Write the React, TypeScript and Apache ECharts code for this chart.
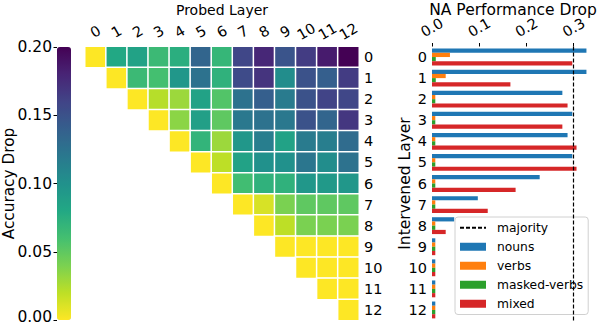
import React, { useEffect, useRef } from "react";
import * as echarts from "echarts";

const layers = ["0", "1", "2", "3", "4", "5", "6", "7", "8", "9", "10", "11", "12"];

// Accuracy drop heatmap: each row starts at the diagonal (probed layer = intervened layer)
const accRow0 = [0, 0.08, 0.085, 0.065, 0.075, 0.135, 0.068, 0.158, 0.178, 0.148, 0.165, 0.185, 0.2];
const accRow1 = [0, 0.065, 0.06, 0.095, 0.125, 0.072, 0.155, 0.17, 0.103, 0.15, 0.14, 0.165];
const accRow2 = [0, 0.022, 0.03, 0.085, 0.055, 0.125, 0.14, 0.118, 0.15, 0.16, 0.158];
const accRow3 = [0, 0.035, 0.088, 0.05, 0.12, 0.125, 0.12, 0.15, 0.135, 0.168];
const accRow4 = [0, 0.07, 0.03, 0.095, 0.115, 0.085, 0.118, 0.115, 0.13];
const accRow5 = [0, 0.02, 0.085, 0.1, 0.1, 0.122, 0.103, 0.125];
const accRow6 = [0, 0.062, 0.072, 0.072, 0.095, 0.093, 0.095];
const accRow7 = [0, 0.012, 0.04, 0.05, 0.05, 0.05];
const accRow8 = [0, 0.02, 0.04, 0.04, 0.04];
const accRow9 = [0, 0, 0, 0];
const accRow10 = [0, 0, 0];
const accRow11 = [0, 0];
const accRow12 = [0];
const accRows = [accRow0, accRow1, accRow2, accRow3, accRow4, accRow5, accRow6, accRow7, accRow8, accRow9, accRow10, accRow11, accRow12];

const colorbarTicks = [0, 0.05, 0.1, 0.15, 0.2];

// NA performance drop bars
const nouns = [0.327, 0.327, 0.276, 0.297, 0.287, 0.297, 0.228, 0.097, 0.047, 0.007, 0.007, 0.007, 0.007];
const verbs = [0.038, 0.029, 0.007, 0.007, 0.007, 0.007, 0.007, 0.007, 0.007, 0.007, 0.007, 0.007, 0.007];
const maskedVerbs = [0.008, 0.008, 0.007, 0.007, 0.007, 0.007, 0.007, 0.007, 0.007, 0.007, 0.007, 0.007, 0.007];
const mixed = [0.297, 0.166, 0.287, 0.276, 0.306, 0.306, 0.177, 0.118, 0.029, 0.007, 0.007, 0.007, 0.007];
const majority = 0.302;
const naTicks = [0, 0.1, 0.2, 0.3];

const viridisR = ["#fde725", "#bddf26", "#7ad151", "#44bf70", "#22a884", "#21918c", "#2a788e", "#355f8d", "#414487", "#482475", "#440154"];

export default function App() {
  const ref = useRef<HTMLDivElement>(null);
  useEffect(() => {
    document.body.style.margin = "0";
    if (!ref.current) return;
    const chart = echarts.init(ref.current, undefined, { renderer: "svg" });
    const heatData: number[][] = [];
    accRows.forEach((row, i) => {
      row.forEach((v, k) => heatData.push([i + k, i, v]));
    });
    const font = "DejaVu Sans";
    const black = "#000";
    chart.setOption({
      animation: false,
      textStyle: { fontFamily: font, color: black },
      grid: [
        { left: 85, top: 46.5, width: 274, height: 274, outerBoundsMode: "none", containLabel: false },
        { left: 432, top: 46.5, width: 162, height: 274, outerBoundsMode: "none", containLabel: false },
        { left: 57, top: 47, width: 14, height: 273, outerBoundsMode: "none", containLabel: false },
      ],
      xAxis: [
        {
          type: "category", gridIndex: 0, position: "top", data: layers,
          axisLine: { show: false },
          axisTick: { alignWithLabel: true, length: 3.5, interval: 0, lineStyle: { color: black } },
          axisLabel: { interval: 0, rotate: -30, fontSize: 14.5, color: black, align: "center", verticalAlign: "middle", margin: 15, fontFamily: font },
          splitLine: { show: false },
          name: "Probed Layer", nameLocation: "middle", nameGap: 29.5, nameMoveOverlap: false,
          nameTextStyle: { fontSize: 14, color: black, fontFamily: font },
        },
        {
          type: "value", gridIndex: 1, position: "top", min: 0, max: 0.343,
          axisLine: { show: false },
          axisTick: { show: true, length: 3.5, customValues: naTicks, lineStyle: { color: black } },
          axisLabel: { rotate: -30, fontSize: 14.5, color: black, align: "center", verticalAlign: "middle", margin: 19, customValues: naTicks, formatter: (v: number) => v.toFixed(1), fontFamily: font },
          splitLine: { show: false },
          name: "NA Performance Drop", nameLocation: "middle", nameGap: 28.5, nameMoveOverlap: false,
          nameTextStyle: { fontSize: 15.5, color: black, fontFamily: font },
        },
        { type: "value", gridIndex: 2, show: false, min: 0, max: 1 },
      ],
      yAxis: [
        {
          type: "category", gridIndex: 0, position: "right", inverse: true, data: layers,
          axisLine: { show: false },
          axisTick: { alignWithLabel: true, length: 3.5, interval: 0, lineStyle: { color: black } },
          axisLabel: { interval: 0, fontSize: 14.5, color: black, margin: 5, fontFamily: font },
          splitLine: { show: false },
        },
        {
          type: "category", gridIndex: 1, position: "left", inverse: true, data: layers,
          axisLine: { show: false },
          axisTick: { alignWithLabel: true, length: 3.5, interval: 0, lineStyle: { color: black } },
          axisLabel: { interval: 0, fontSize: 14.5, color: black, margin: 5, fontFamily: font },
          splitLine: { show: false },
          name: "Intervened Layer", nameLocation: "middle", nameGap: 19, nameMoveOverlap: false,
          nameTextStyle: { fontSize: 15.5, color: black, fontFamily: font },
        },
        {
          type: "value", gridIndex: 2, position: "left", min: 0, max: 0.2, interval: 0.05,
          axisLine: { show: false },
          axisTick: { show: true, length: 3.5, customValues: colorbarTicks, lineStyle: { color: black } },
          axisLabel: {
            fontSize: 15.5, lineHeight: 12, color: black, margin: 5, customValues: colorbarTicks, fontFamily: font,
            formatter: (v: number) => (v === 0 ? "{low|" + v.toFixed(2) + "}" : v.toFixed(2)),
            rich: { low: { fontSize: 15.5, lineHeight: 12, color: black, fontFamily: font, padding: [0, 0, 6, 0] } },
          },
          splitLine: { show: false },
          name: "Accuracy Drop", nameLocation: "middle", nameGap: 40.5, nameMoveOverlap: false,
          nameTextStyle: { fontSize: 15.3, color: black, fontFamily: font },
        },
      ],
      visualMap: {
        type: "continuous", seriesIndex: 0, min: 0, max: 0.2,
        left: 57, top: 47, itemWidth: 14, itemHeight: 273, padding: 0,
        calculable: false, text: null, orient: "vertical",
        inRange: { color: viridisR },
      },
      legend: {
        left: 455, top: 217, orient: "vertical",
        itemWidth: 26, itemHeight: 8, itemGap: 5.5,
        padding: [4, 5, 4, 4],
        backgroundColor: "rgba(255,255,255,0.8)",
        borderColor: "#d0d0d0", borderWidth: 1, borderRadius: 3,
        textStyle: { fontSize: 12.3, lineHeight: 13.5, color: black, fontFamily: font, padding: [0, 0, 0, 6] },
        data: [
          { name: "majority", itemStyle: { color: "rgba(0,0,0,0)", borderWidth: 0, opacity: 0 } },
          { name: "nouns", icon: "rect" },
          { name: "verbs", icon: "rect" },
          { name: "masked-verbs", icon: "rect" },
          { name: "mixed", icon: "rect" },
        ],
      },
      series: [
        {
          type: "heatmap", xAxisIndex: 0, yAxisIndex: 0, data: heatData,
          itemStyle: { borderColor: "#fff", borderWidth: 1.5 },
          emphasis: { disabled: true },
        },
        {
          name: "majority", type: "line", xAxisIndex: 1, yAxisIndex: 1, data: [],
          symbol: "none", color: black,
          lineStyle: { color: black, type: [4, 2], width: 1.2 },
          markLine: {
            silent: true, symbol: "none", label: { show: false },
            lineStyle: { color: black, type: [4, 2], width: 1.2 },
            data: [{ xAxis: majority }],
          },
        },
        { name: "nouns", type: "bar", xAxisIndex: 1, yAxisIndex: 1, data: nouns, color: "#1f77b4", barGap: "0%", barCategoryGap: "20%" },
        { name: "verbs", type: "bar", xAxisIndex: 1, yAxisIndex: 1, data: verbs, color: "#ff7f0e", barGap: "0%", barCategoryGap: "20%" },
        { name: "masked-verbs", type: "bar", xAxisIndex: 1, yAxisIndex: 1, data: maskedVerbs, color: "#2ca02c", barGap: "0%", barCategoryGap: "20%" },
        { name: "mixed", type: "bar", xAxisIndex: 1, yAxisIndex: 1, data: mixed, color: "#d62728", barGap: "0%", barCategoryGap: "20%" },
        { type: "scatter", xAxisIndex: 2, yAxisIndex: 2, data: [] },
      ],
    });
    return () => chart.dispose();
  }, []);
  return <div ref={ref} style={{ width: 598, height: 326 }} />;
}
